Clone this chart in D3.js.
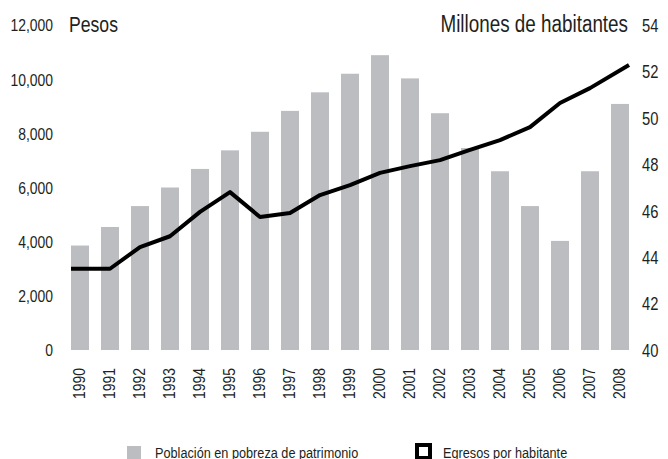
<!DOCTYPE html>
<html>
<head>
<meta charset="utf-8">
<script src="https://cdn.jsdelivr.net/npm/d3@7"></script>
<style>
  html, body { margin: 0; padding: 0; background: #fff; }
  svg { display: block; }
  text { font-family: "Liberation Sans", Arial, sans-serif; fill: #231f20; }
</style>
</head>
<body>
<svg id="chart" width="668" height="459"></svg>
<script>
// Years on the horizontal axis
const years = [1990, 1991, 1992, 1993, 1994, 1995, 1996, 1997, 1998, 1999,
               2000, 2001, 2002, 2003, 2004, 2005, 2006, 2007, 2008];

// Población en pobreza de patrimonio (millones de habitantes)
const poblacion = [44.5, 45.3, 46.2, 47.0, 47.8, 48.6, 49.4, 50.3, 51.1, 51.9,
                   52.7, 51.7, 50.2, 48.7, 47.7, 46.2, 44.7, 47.7, 50.6];

// Egresos por habitante (pesos)
const egresos = [3000, 3000, 3800, 4200, 5100, 5830, 4910, 5060, 5720, 6090,
                 6540, 6790, 7010, 7390, 7750, 8230, 9120, 9670, 10520];

// Axis ticks
const leftTicks = [0, 2000, 4000, 6000, 8000, 10000, 12000];
const rightTicks = [40, 42, 44, 46, 48, 50, 52, 54];

// Horizontal squeeze that gives the regular sans a condensed look
const NARROW = "scale(0.82,1)";

const svg = d3.select("#chart");

const x = d3.scaleBand().domain(years).range([65, 635]).paddingInner(0.4).paddingOuter(0.2);
const yL = d3.scaleLinear().domain([0, 12000]).range([350, 25]);
const yR = d3.scaleLinear().domain([40, 54]).range([350, 25]);

// Bars: population in poverty, on the right scale
svg.append("g")
  .selectAll("rect")
  .data(years)
  .join("rect")
  .attr("x", d => x(d))
  .attr("width", x.bandwidth())
  .attr("y", (d, i) => yR(poblacion[i]))
  .attr("height", (d, i) => yR(40) - yR(poblacion[i]))
  .attr("fill", "#bcbdc1");

// Line: spending per inhabitant, on the left scale; the ends reach the outer bar edges
const n = years.length;
const lineX = (d, i) => i === 0 ? x(d) : (i === n - 1 ? x(d) + x.bandwidth() : x(d) + x.bandwidth() / 2);
const line = d3.line()
  .x((d, i) => lineX(d, i))
  .y((d, i) => yL(egresos[i]))
  .curve(d3.curveLinear);

svg.append("path")
  .datum(years)
  .attr("d", line)
  .attr("fill", "none")
  .attr("stroke", "#000")
  .attr("stroke-width", 4)
  .attr("stroke-linejoin", "round");

// Left axis (pesos)
const leftAxis = d3.axisLeft(yL).tickValues(leftTicks).tickFormat(d3.format(",")).tickSize(0).tickPadding(0);
const gL = svg.append("g").attr("transform", "translate(53,0)").call(leftAxis);
gL.attr("font-family", null).attr("font-size", null);
gL.select(".domain").remove();
gL.selectAll("text").attr("font-size", 17).attr("dy", "0.35em")
  .attr("transform", NARROW).attr("fill", "#231f20");

// Right axis (millions)
const rightAxis = d3.axisRight(yR).tickValues(rightTicks).tickSize(0).tickPadding(0);
const gR = svg.append("g").attr("transform", "translate(642,0)").call(rightAxis);
gR.attr("font-family", null).attr("font-size", null);
gR.select(".domain").remove();
gR.selectAll("text").attr("font-size", 18).attr("dy", "0.35em")
  .attr("transform", NARROW).attr("fill", "#231f20");

// Bottom axis: rotated years
const bottomAxis = d3.axisBottom(x).tickSize(0).tickPadding(0);
const gB = svg.append("g").attr("transform", "translate(0,368)").call(bottomAxis);
gB.attr("font-family", null).attr("font-size", null);
gB.select(".domain").remove();
gB.selectAll("text")
  .attr("font-size", 17)
  .attr("fill", "#231f20")
  .attr("text-anchor", "end")
  .attr("transform", "rotate(-90) " + NARROW)
  .attr("x", 0)
  .attr("y", 0)
  .attr("dy", "0.3em");

// Helper for free-standing condensed labels
function label(px, py, str, size, anchor) {
  svg.append("g").attr("transform", `translate(${px},${py})`)
    .append("text")
    .attr("transform", NARROW)
    .attr("font-size", size)
    .attr("text-anchor", anchor || "start")
    .text(str);
}

// Axis titles
label(69, 32, "Pesos", 21.5);
label(628, 32, "Millones de habitantes", 23, "end");

// Legend
svg.append("rect").attr("x", 127).attr("y", 446).attr("width", 14).attr("height", 14).attr("fill", "#bcbdc1");
label(155, 458, "Población en pobreza de patrimonio", 15.5);
svg.append("rect").attr("x", 417).attr("y", 445).attr("width", 13).attr("height", 13)
  .attr("fill", "#fff").attr("stroke", "#000").attr("stroke-width", 4);
label(443, 458, "Egresos por habitante", 15.5);
</script>
</body>
</html>
